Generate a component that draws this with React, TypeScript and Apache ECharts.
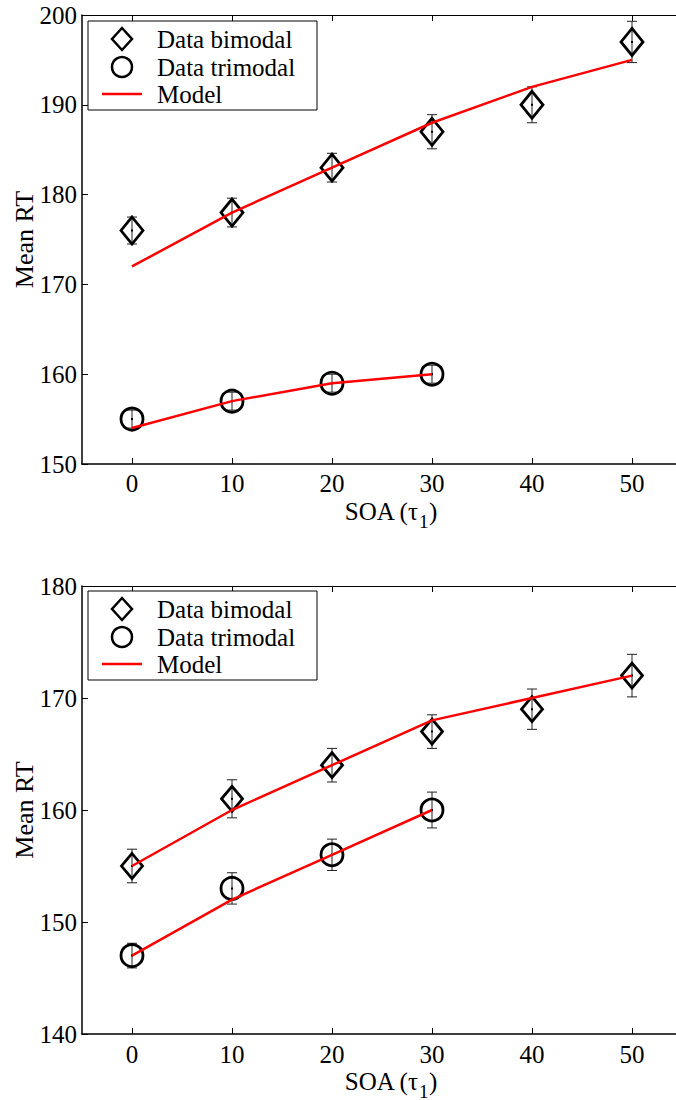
import React, { useEffect, useRef } from "react";
import * as echarts from "echarts";

// ---- data ----
const soa = [0, 10, 20, 30, 40, 50];
const soaTri = [0, 10, 20, 30];
const xTicks = [0, 10, 20, 30, 40, 50];

// top panel
const topBimodal = [176, 178, 183, 187, 190, 197];
const topBimodalErr = [1.5, 1.6, 1.6, 1.9, 2.0, 2.3];
const topTrimodal = [155, 157, 159, 160];
const topTrimodalErr = [1.0, 1.0, 1.0, 1.0];
const topModelBi = [172, 178, 183, 188, 192, 195];
const topModelTri = [154, 157, 159, 160];

// bottom panel
const botBimodal = [155, 161, 164, 167, 169, 172];
const botBimodalErr = [1.5, 1.7, 1.5, 1.5, 1.8, 1.9];
const botTrimodal = [147, 153, 156, 160];
const botTrimodalErr = [1.1, 1.4, 1.4, 1.6];
const botModelBi = [155, 160, 164, 168, 170, 172];
const botModelTri = [147, 152, 156, 160];

const legendLabels = ["Data bimodal", "Data trimodal", "Model"];
const yLabel = "Mean RT";

const FONT = "'Liberation Serif', 'Times New Roman', Times, serif";

function pairs(xs: number[], ys: number[]) {
  return xs.map((x, i) => [x, ys[i]]);
}
function errData(xs: number[], ys: number[], es: number[]) {
  return xs.map((x, i) => [x, ys[i], es[i]]);
}

const renderErr = (params: any, api: any) => {
  const x = api.value(0);
  const c = api.value(1);
  const e = api.value(2);
  const p = api.coord([x, c]);
  const t = api.coord([x, c + e]);
  const b = api.coord([x, c - e]);
  const hw = 5;
  const st = { stroke: "#222", lineWidth: 1 };
  return {
    type: "group",
    children: [
      { type: "line", shape: { x1: p[0], y1: t[1], x2: p[0], y2: b[1] }, style: st },
      { type: "line", shape: { x1: p[0] - hw, y1: t[1], x2: p[0] + hw, y2: t[1] }, style: st },
      { type: "line", shape: { x1: p[0] - hw, y1: b[1], x2: p[0] + hw, y2: b[1] }, style: st },
      { type: "rect", shape: { x: p[0] - 1, y: p[1] - 1, width: 2, height: 2 }, style: { fill: "#000" } },
    ],
  };
};

function legendGraphics(top: number) {
  const left = 88;
  const rows = [top + 18, top + 46, top + 73];
  const cx = 122;
  const txtX = 157;
  const els: any[] = [
    {
      type: "rect",
      shape: { x: left, y: top, width: 229, height: 89 },
      style: { fill: "#fff", stroke: "#000", lineWidth: 1 },
      z: 50,
    },
    {
      type: "polygon",
      shape: {
        points: [
          [cx, rows[0] - 11],
          [cx + 10, rows[0]],
          [cx, rows[0] + 11],
          [cx - 10, rows[0]],
        ],
      },
      style: { fill: "none", stroke: "#000", lineWidth: 2.5 },
      z: 51,
    },
    {
      type: "circle",
      shape: { cx: cx, cy: rows[1], r: 10 },
      style: { fill: "none", stroke: "#000", lineWidth: 2.5 },
      z: 51,
    },
    {
      type: "line",
      shape: { x1: 102, y1: rows[2], x2: 142, y2: rows[2] },
      style: { stroke: "#ff0000", lineWidth: 2.5 },
      z: 51,
    },
  ];
  legendLabels.forEach((t, i) => {
    els.push({
      type: "text",
      x: txtX,
      y: rows[i],
      style: {
        text: t,
        fontFamily: FONT,
        fontSize: 25,
        fill: "#000",
        align: "left",
        verticalAlign: "middle",
      },
      z: 51,
    });
  });
  return els;
}

function soaLabel(cy: number) {
  const base = { fontFamily: FONT, fill: "#000", verticalAlign: "middle" };
  return [
    { type: "text", x: 418, y: cy, style: { ...base, text: "SOA (τ", fontSize: 25, align: "right" } },
    { type: "text", x: 419, y: cy + 10, style: { ...base, text: "1", fontSize: 19, align: "left" } },
    { type: "text", x: 429, y: cy, style: { ...base, text: ")", fontSize: 25, align: "left" } },
  ];
}

export default function App() {
  const ref = useRef<HTMLDivElement>(null);
  useEffect(() => {
    if (!ref.current) return;
    const chart = echarts.init(ref.current, undefined, { renderer: "svg" });

    const axisLine = { show: true, onZero: false, lineStyle: { color: "#000", width: 1.5 } };
    const thinLine = { show: true, onZero: false, lineStyle: { color: "#000", width: 1 } };
    const tick = { show: true, inside: true, length: 6, lineStyle: { color: "#000", width: 1 } };
    const labelStyle = { fontFamily: FONT, fontSize: 25, color: "#000" };

    const mkX = (gridIndex: number, margin: number) => [
      {
        type: "value",
        gridIndex,
        min: -5,
        max: 55,
        position: "bottom",
        axisLine,
        axisTick: { ...tick, customValues: xTicks },
        splitLine: { show: false },
        axisLabel: {
          ...labelStyle,
          margin,
          customValues: xTicks,
          formatter: (v: number) => (xTicks.includes(v) ? String(v) : ""),
        },
      },
      {
        type: "value",
        gridIndex,
        min: -5,
        max: 55,
        position: "top",
        axisLine: thinLine,
        axisTick: { ...tick, customValues: xTicks },
        splitLine: { show: false },
        axisLabel: { show: false },
      },
    ];
    const mkY = (gridIndex: number, min: number, max: number) => [
      {
        type: "value",
        gridIndex,
        min,
        max,
        interval: 10,
        position: "left",
        name: yLabel,
        nameLocation: "middle",
        nameGap: 45,
        nameMoveOverlap: false,
        nameTextStyle: { fontFamily: FONT, fontSize: 26, color: "#000" },
        axisLine,
        axisTick: tick,
        splitLine: { show: false },
        axisLabel: { ...labelStyle, margin: 5 },
      },
      {
        type: "value",
        gridIndex,
        min,
        max,
        interval: 10,
        position: "right",
        axisLine: thinLine,
        axisTick: tick,
        splitLine: { show: false },
        axisLabel: { show: false },
      },
    ];

    const scatter = (xi: number, yi: number, data: number[][], symbol: string, size: any) => ({
      type: "scatter",
      xAxisIndex: xi,
      yAxisIndex: yi,
      data,
      symbol,
      symbolSize: size,
      itemStyle: { color: "rgba(0,0,0,0)", borderColor: "#000", borderWidth: 2.8, opacity: 1 },
      z: 3,
      silent: true,
    });
    const errs = (xi: number, yi: number, data: number[][]) => ({
      type: "custom",
      xAxisIndex: xi,
      yAxisIndex: yi,
      data,
      renderItem: renderErr,
      encode: { x: 0, y: 1 },
      z: 2,
      silent: true,
    });
    const line = (xi: number, yi: number, data: number[][]) => ({
      type: "line",
      xAxisIndex: xi,
      yAxisIndex: yi,
      data,
      symbol: "none",
      lineStyle: { color: "#ff0000", width: 2.5, opacity: 1 },
      z: 4,
      silent: true,
    });

    chart.setOption({
      animation: false,
      backgroundColor: "#fff",
      grid: [
        { left: 82, top: 15, width: 600, height: 449, outerBoundsMode: "none", containLabel: false },
        { left: 82, top: 586, width: 600, height: 448, outerBoundsMode: "none", containLabel: false },
      ],
      xAxis: [...mkX(0, 7), ...mkX(1, 8)],
      yAxis: [...mkY(0, 150, 200), ...mkY(1, 140, 180)],
      series: [
        errs(0, 0, errData(soa, topBimodal, topBimodalErr)),
        errs(0, 0, errData(soaTri, topTrimodal, topTrimodalErr)),
        scatter(0, 0, pairs(soa, topBimodal), "diamond", [22, 27]),
        scatter(0, 0, pairs(soaTri, topTrimodal), "circle", 22),
        line(0, 0, pairs(soa, topModelBi)),
        line(0, 0, pairs(soaTri, topModelTri)),
        errs(2, 2, errData(soa, botBimodal, botBimodalErr)),
        errs(2, 2, errData(soaTri, botTrimodal, botTrimodalErr)),
        scatter(2, 2, pairs(soa, botBimodal), "diamond", [21, 25]),
        scatter(2, 2, pairs(soaTri, botTrimodal), "circle", 22),
        line(2, 2, pairs(soa, botModelBi)),
        line(2, 2, pairs(soaTri, botModelTri)),
      ],
      graphic: [...legendGraphics(21), ...legendGraphics(591), ...soaLabel(511), ...soaLabel(1081)],
    });
    return () => chart.dispose();
  }, []);
  return (
    <div
      ref={ref}
      style={{ position: "absolute", left: 0, top: 0, width: 676, height: 1100, background: "#fff" }}
    />
  );
}
